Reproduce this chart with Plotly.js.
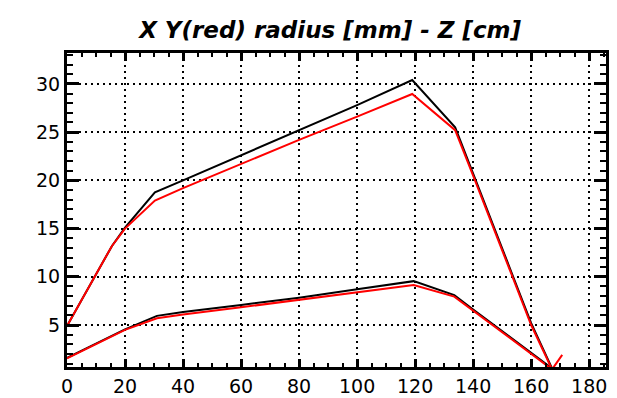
<!DOCTYPE html>
<html>
<head>
<meta charset="utf-8">
<script src="https://cdn.plot.ly/plotly-3.0.1.min.js"></script>
<style>html,body{margin:0;padding:0;background:#fff;}#chart{width:617px;height:398px;}</style>
</head>
<body>
<div id="chart"></div>
<script>
// Z [cm]
var zUpper = [0, 15.5, 20, 30.3, 40, 60, 80, 100, 119, 133.8, 140, 160, 167.2];
var blackUpper = [4.9, 13.2, 15.1, 18.75, 20.0, 22.6, 25.2, 27.8, 30.4, 25.5, 20.7, 5.2, 0.5];
var redUpper = [4.9, 13.2, 15.0, 17.9, 19.2, 21.7, 24.2, 26.6, 28.95, 25.2, 20.5, 5.0, 0.4];

var zLower = [0, 20, 31, 40, 60, 80, 100, 119.5, 133.5, 140, 167.2];
var blackLower = [1.6, 4.55, 5.95, 6.35, 7.08, 7.84, 8.7, 9.55, 8.1, 6.6, 0.5];
var zLowerRed = [0, 20, 31, 40, 60, 80, 100, 119.5, 133.5, 140, 167.2, 170.7];
var redLower = [1.55, 4.5, 5.7, 6.1, 6.84, 7.6, 8.36, 9.15, 7.95, 6.5, 0.4, 1.9];

var xTicks = [0, 20, 40, 60, 80, 100, 120, 140, 160, 180];
var yTicks = [5, 10, 15, 20, 25, 30];

var traces = [
  {x: zUpper, y: blackUpper, mode: 'lines', line: {color: '#000000', width: 2}},
  {x: zLower, y: blackLower, mode: 'lines', line: {color: '#000000', width: 2}},
  {x: zUpper, y: redUpper, mode: 'lines', line: {color: '#ff0000', width: 2}},
  {x: zLowerRed, y: redLower, mode: 'lines', line: {color: '#ff0000', width: 2}}
];

var tickFont = {family: 'DejaVu Sans, Arial, sans-serif', size: 19, color: '#000'};
var layout = {
  width: 617, height: 398,
  margin: {l: 67, r: 11, t: 53, b: 31, pad: 0},
  paper_bgcolor: '#fff', plot_bgcolor: '#fff',
  showlegend: false,
  title: {text: 'X Y(red) radius [mm] - Z [cm]', x: 0.535, xanchor: 'center', y: 0.925, yanchor: 'middle',
          font: {family: 'DejaVu Sans, Arial, sans-serif', size: 23, weight: 'bold', style: 'italic', color: '#000'}},
  xaxis: {
    range: [0, 185.8], tickvals: xTicks, ticktext: xTicks.map(String),
    showline: true, linecolor: '#000', linewidth: 3, mirror: 'allticks',
    ticks: 'inside', ticklen: 8, tickwidth: 3, tickcolor: '#000',
    minor: {dtick: 5, tick0: 0, ticks: 'inside', ticklen: 4, tickwidth: 2, tickcolor: '#000', showgrid: false},
    showgrid: true, gridcolor: '#000', gridwidth: 2, griddash: '2px,4px',
    zeroline: false, tickfont: tickFont, fixedrange: true
  },
  yaxis: {
    range: [0.65, 33.2], tickvals: yTicks, ticktext: yTicks.map(String),
    showline: true, linecolor: '#000', linewidth: 3, mirror: 'allticks',
    ticks: 'inside', ticklen: 12, tickwidth: 3, tickcolor: '#000',
    minor: {dtick: 1, tick0: 0, ticks: 'inside', ticklen: 6, tickwidth: 2, tickcolor: '#000', showgrid: false},
    showgrid: true, gridcolor: '#000', gridwidth: 2, griddash: '2px,4px',
    zeroline: false, tickfont: tickFont, fixedrange: true
  }
};

Plotly.newPlot('chart', traces, layout, {displayModeBar: false, staticPlot: true});
</script>
</body>
</html>
